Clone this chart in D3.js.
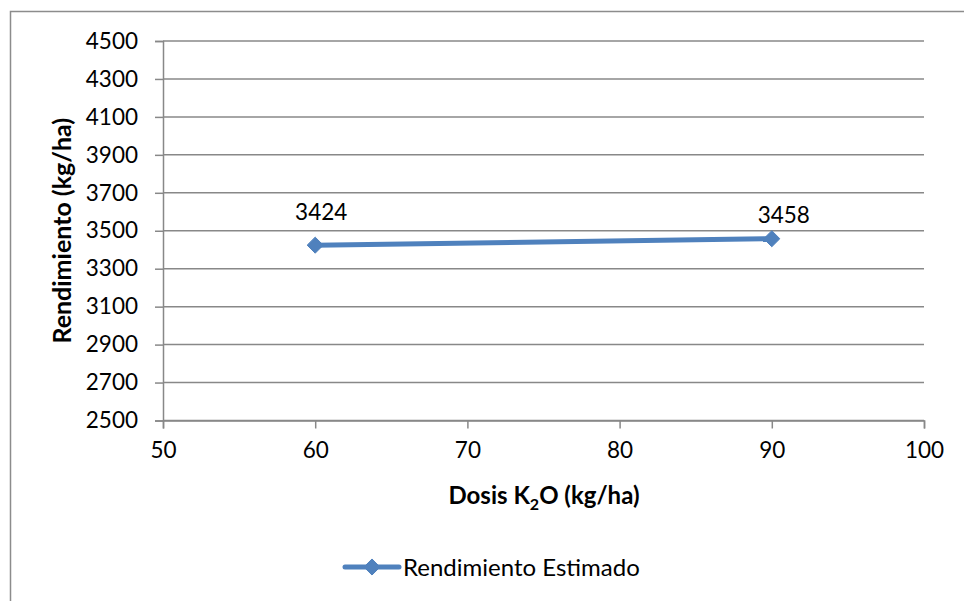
<!DOCTYPE html>
<html>
<head>
<meta charset="utf-8">
<script src="https://cdn.jsdelivr.net/npm/d3@7"></script>
<style>
  body { margin: 0; background: #fff; }
  text { font-family: Lato, "Open Sans", sans-serif; fill: #000; }
</style>
</head>
<body>
<svg id="chart"></svg>
<script>
// data
var dosis = [60, 90];
var rendimiento = [3424, 3458];
var xTicks = [50, 60, 70, 80, 90, 100];
var yTicks = [2500, 2700, 2900, 3100, 3300, 3500, 3700, 3900, 4100, 4300, 4500];
var seriesName = "Rendimiento Estimado";

// where the data labels sit relative to their point (as in the original)
var labelShift = [[6, -25], [12, -16]];

var w = 964, h = 601;
var margin = {top: 41, left: 163, right: 40, bottom: 181};
var blue = "#4F81BD";
var grid = "#888";

var svg = d3.select("#chart").attr("width", w).attr("height", h);

// outer frame (runs off right and bottom)
svg.append("rect")
  .attr("x", 10.5).attr("y", 11.5)
  .attr("width", 1000).attr("height", 700)
  .attr("fill", "none").attr("stroke", "#8c8c8c").attr("stroke-width", 1.5);

var x = d3.scaleLinear().domain([50, 100]).range([margin.left, w - margin.right]);
var y = d3.scaleLinear().domain([2500, 4500]).range([h - margin.bottom + 0.5, margin.top]);

// gridlines
svg.append("g").selectAll("line")
  .data(yTicks)
  .enter().append("line")
  .attr("x1", x(50)).attr("x2", x(100))
  .attr("y1", function(d){ return y(d); })
  .attr("y2", function(d){ return y(d); })
  .attr("stroke", grid).attr("stroke-width", 1.5);

// y axis
var yAxis = svg.append("g")
  .attr("transform", "translate(" + x(50) + ",0)")
  .call(d3.axisLeft(y).tickValues(yTicks).tickSize(8).tickPadding(17).tickFormat(d3.format("d")));
yAxis.selectAll("line, path").attr("stroke", grid).attr("stroke-width", 1.5);
yAxis.selectAll("text").style("font-size", "22.5px").style("font-family", "Lato, sans-serif");

// x axis
var xAxis = svg.append("g")
  .attr("transform", "translate(0," + y(2500) + ")")
  .call(d3.axisBottom(x).tickValues(xTicks).tickSize(8).tickPadding(14).tickFormat(d3.format("d")));
xAxis.selectAll("line, path").attr("stroke", grid).attr("stroke-width", 1.5);
xAxis.selectAll("text").style("font-size", "22.5px").style("font-family", "Lato, sans-serif");

// axis titles
svg.append("text")
  .attr("transform", "translate(71," + ((y(2500) + y(4500)) / 2) + ") rotate(-90)")
  .attr("text-anchor", "middle")
  .style("font-size", "25px").style("font-weight", "bold")
  .text("Rendimiento (kg/ha)");

var xt = svg.append("text")
  .attr("x", 544).attr("y", 504)
  .attr("text-anchor", "middle")
  .style("font-size", "24px").style("font-weight", "bold");
xt.append("tspan").text("Dosis K");
xt.append("tspan").attr("dy", 6).style("font-size", "16px").text("2");
xt.append("tspan").attr("dy", -6).text("O (kg/ha)");

// series
var pts = dosis.map(function(d, i){ return {x: d, y: rendimiento[i], i: i}; });
var line = d3.line().x(function(d){ return x(d.x); }).y(function(d){ return y(d.y); });

svg.append("path")
  .datum(pts)
  .attr("d", line)
  .attr("fill", "none").attr("stroke", blue).attr("stroke-width", 5);

var diamond = d3.symbol().type(d3.symbolDiamond2).size(165);
svg.append("g").selectAll("path")
  .data(pts)
  .enter().append("path")
  .attr("d", diamond)
  .attr("transform", function(d){ return "translate(" + x(d.x) + "," + y(d.y) + ")"; })
  .attr("fill", blue).attr("stroke", blue).attr("stroke-width", 1);

svg.append("g").selectAll("text")
  .data(pts)
  .enter().append("text")
  .attr("x", function(d){ return x(d.x) + labelShift[d.i][0]; })
  .attr("y", function(d){ return y(d.y) + labelShift[d.i][1]; })
  .attr("text-anchor", "middle")
  .style("font-size", "22.5px")
  .text(function(d){ return d.y; });

// legend
var lg = svg.append("g").attr("transform", "translate(345,567)");
lg.append("line").attr("x1", 0).attr("x2", 54).attr("y1", 0).attr("y2", 0)
  .attr("stroke", blue).attr("stroke-width", 5).attr("stroke-linecap", "round");
lg.append("path").attr("d", diamond).attr("transform", "translate(27,0)")
  .attr("fill", blue).attr("stroke", blue);
lg.append("text").attr("x", 58).attr("y", 9)
  .style("font-size", "24px").text(seriesName);
</script>
</body>
</html>
